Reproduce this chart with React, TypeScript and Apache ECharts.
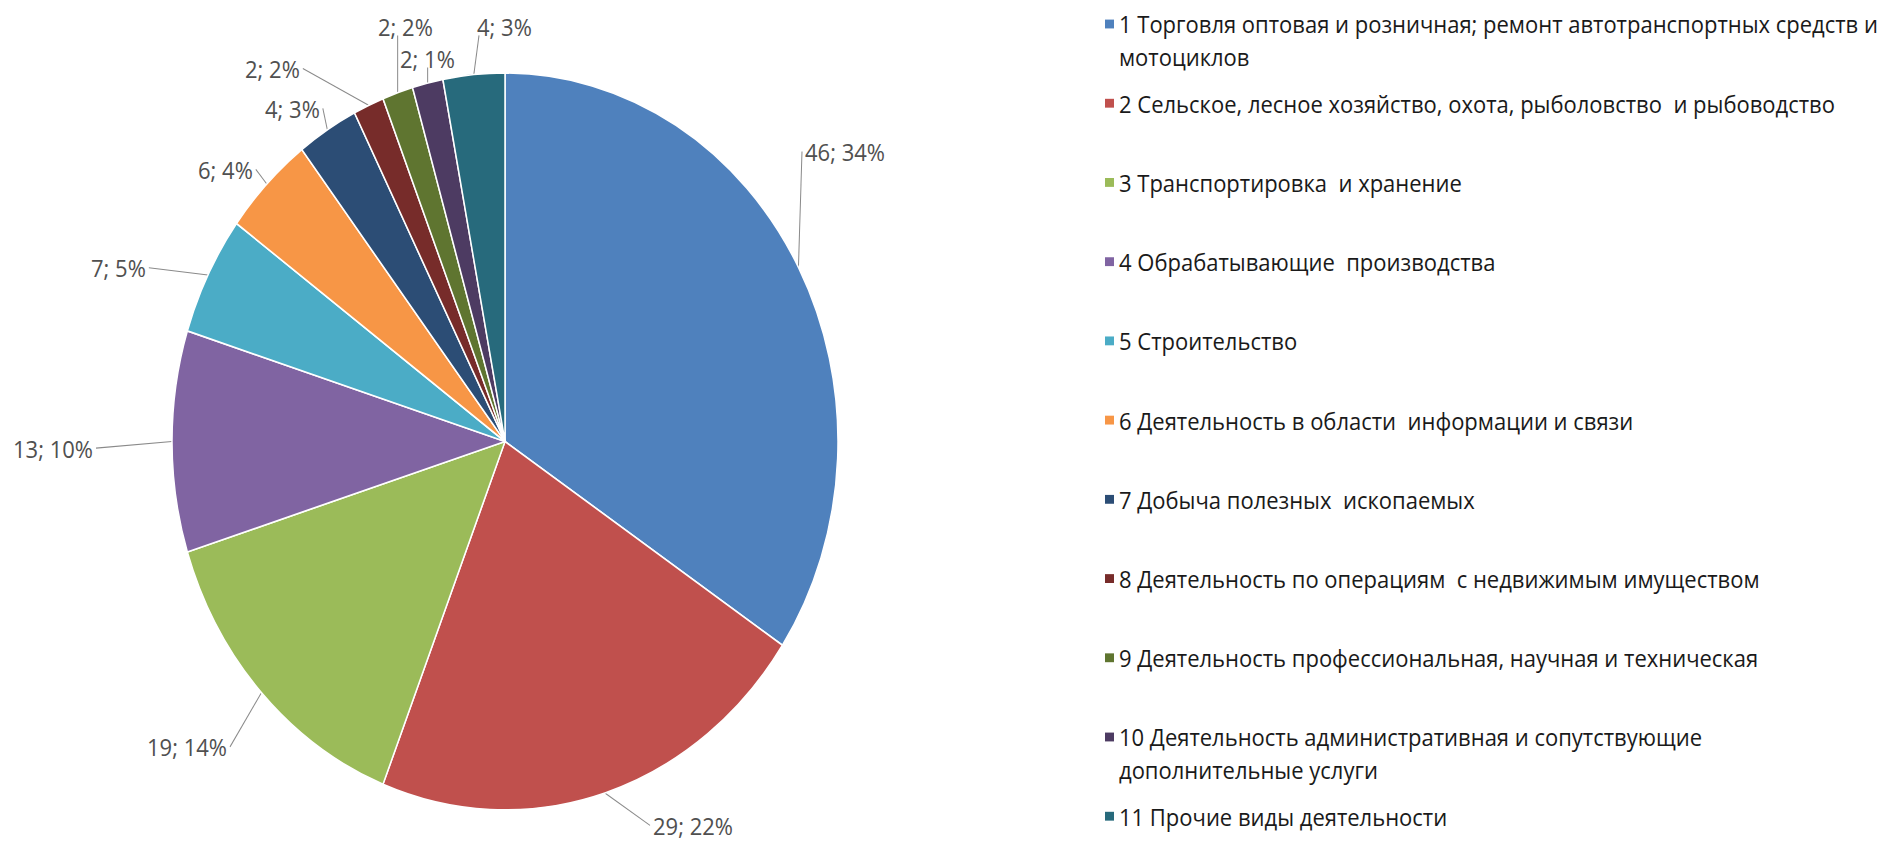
import React, { useEffect, useRef } from "react";
import * as echarts from "echarts";

// ---- data ----
const categories: string[] = [
  "1 Торговля оптовая и розничная; ремонт автотранспортных средств и мотоциклов",
  "2 Сельское, лесное хозяйство, охота, рыболовство и рыбоводство",
  "3 Транспортировка и хранение",
  "4 Обрабатывающие производства",
  "5 Строительство",
  "6 Деятельность в области информации и связи",
  "7 Добыча полезных ископаемых",
  "8 Деятельность по операциям с недвижимым имуществом",
  "9 Деятельность профессиональная, научная и техническая",
  "10 Деятельность административная и сопутствующие дополнительные услуги",
  "11 Прочие виды деятельности",
];
const values: number[] = [46, 29, 19, 13, 7, 6, 4, 2, 2, 2, 4];
const legendLines: string[][] = [
  ["1 Торговля оптовая и розничная; ремонт автотранспортных средств и", "мотоциклов"],
  ["2 Сельское, лесное хозяйство, охота, рыболовство  и рыбоводство"],
  ["3 Транспортировка  и хранение"],
  ["4 Обрабатывающие  производства"],
  ["5 Строительство"],
  ["6 Деятельность в области  информации и связи"],
  ["7 Добыча полезных  ископаемых"],
  ["8 Деятельность по операциям  с недвижимым имуществом"],
  ["9 Деятельность профессиональная, научная и техническая"],
  ["10 Деятельность административная и сопутствующие", "дополнительные услуги"],
  ["11 Прочие виды деятельности"],
];

// ---- style / layout ----
const colors = [
  "#4F81BD", "#C0504D", "#9BBB59", "#8064A2", "#4BACC6", "#F79646",
  "#2C4D75", "#772C2A", "#5F7530", "#4D3B62", "#276A7C",
];
const FONT = "'Open Sans', 'Noto Sans', sans-serif";
const W = 1894;
const H = 761;
const SCALE_Y = 842 / 761;
// label anchor positions (left x, middle y) in chart pixels
const labelPos: number[][] = [
  [805, 137], [653, 746], [147, 675], [13, 405], [91, 242], [198, 153],
  [265, 98], [245, 62], [378, 24], [400, 53], [477, 24],
];
const LEG_LEFT = 1099;
const LEG_Y0 = 21.7;
const LEG_STEP = 71.6;
const LEG_LH = 29;
const LEG_FS = 22;
const LBL_FS = 22;

export default function App() {
  const ref = useRef<HTMLDivElement>(null);
  useEffect(() => {
    if (!ref.current) return;
    const chart = echarts.init(ref.current, null, { renderer: "svg", width: W, height: H });
    const legends = categories.map((name, i) => ({
      data: [name],
      left: LEG_LEFT,
      top: LEG_Y0 + i * LEG_STEP - LEG_LH / 2,
      orient: "vertical",
      padding: 0,
      itemWidth: 0,
      itemHeight: 0,
      selectedMode: false,
      formatter: () => {
        const ls = legendLines[i];
        return "{m|}{g|}" + ls[0] + (ls[1] ? "\n{ind|}" + ls[1] : "");
      },
      textStyle: {
        fontFamily: FONT,
        fontSize: LEG_FS,
        color: "#1a1a1a",
        lineHeight: LEG_LH,
        rich: {
          m: { width: 9, height: 8, backgroundColor: colors[i], lineHeight: LEG_LH },
          g: { width: 5, lineHeight: LEG_LH },
          ind: { width: 14, lineHeight: LEG_LH },
        },
      },
    }));
    chart.setOption({
      animation: false,
      color: colors,
      legend: legends,
      series: [
        {
          type: "pie",
          center: [505, 399],
          radius: 333,
          startAngle: 90,
          clockwise: true,
          avoidLabelOverlap: false,
          percentPrecision: 0,
          data: categories.map((n, i) => ({ name: n, value: values[i] })),
          itemStyle: { borderColor: "#ffffff", borderWidth: 1.5 },
          emphasis: { disabled: true },
          label: {
            show: true,
            position: "outside",
            formatter: "{c}; {d}%",
            color: "#505050",
            fontFamily: FONT,
            fontSize: LBL_FS,
          },
          labelLine: {
            show: true,
            length: 10,
            length2: 10,
            lineStyle: { color: "#8a8a8a", width: 1 },
          },
          labelLayout: (p: any) => {
            const [lx, ly] = labelPos[p.dataIndex];
            const w = p.labelRect.width;
            const h = p.labelRect.height;
            const a = p.labelLinePoints ? p.labelLinePoints[0] : null;
            const res: any = { x: lx, y: ly, align: "left", verticalAlign: "middle" };
            if (a) {
              const cx = lx + w / 2;
              let end: number[];
              if (Math.abs(a[0] - cx) < w / 2 + 4) {
                const ex = Math.min(Math.max(a[0], lx + 2), lx + w - 2);
                end = a[1] > ly ? [ex, ly + h / 2 - 3] : [ex, ly - h / 2 + 3];
              } else if (a[0] > cx) {
                end = [lx + w + 3, ly];
              } else {
                end = [lx - 3, ly];
              }
              res.labelLinePoints = [a, end];
            }
            return res;
          },
        },
      ],
    });
    return () => chart.dispose();
  }, []);
  return (
    <div
      ref={ref}
      style={{
        position: "fixed",
        left: 0,
        top: 0,
        width: W,
        height: H,
        transform: `scaleY(${SCALE_Y})`,
        transformOrigin: "0 0",
        background: "#ffffff",
      }}
    />
  );
}
